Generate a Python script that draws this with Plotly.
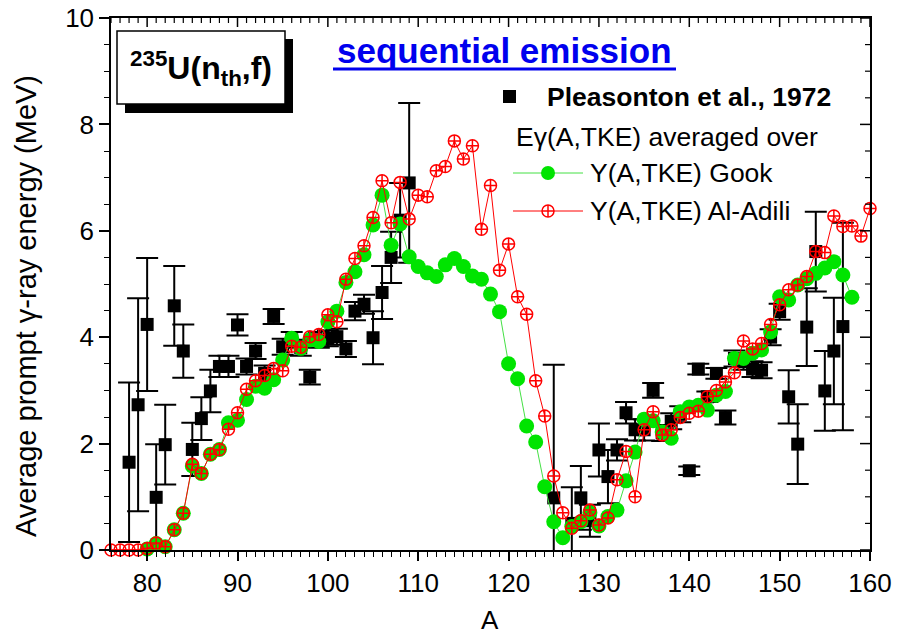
import plotly.graph_objects as go

# ---------------- data ----------------
# Pleasonton et al., 1972 (experimental)
pl_A = [78, 79, 80, 81, 82, 83, 84, 85, 86, 87, 88, 89, 90, 91, 92, 93, 94, 95, 96, 97,
        98, 99, 100, 101, 102, 103, 104, 105, 106, 107, 108, 109,
        125, 127, 128, 129, 130, 131, 132, 133, 134, 135, 136, 137, 138, 139, 140, 141,
        142, 143, 144, 145, 146, 147, 148, 149, 150, 151, 152, 153, 154, 155, 156, 157]
pl_E = [1.65, 2.73, 4.24, 0.99, 1.98, 4.59, 3.74, 1.89, 2.47, 2.99, 3.45, 3.45, 4.23, 3.45, 3.74, 3.32, 4.39, 3.82, 3.95, 3.80,
        3.25, 3.95, 3.98, 4.01, 3.78, 4.49, 4.62, 3.99, 4.84, 5.50, 6.20, 6.90,
        0.98, 0.50, 0.98, 0.55, 1.88, 1.38, 1.88, 2.58, 2.26, 2.26, 3.00, 2.20, 2.42, 2.55, 1.49, 3.40,
        2.88, 3.32, 2.49, 3.60, 3.54, 3.40, 3.38, 4.00, 4.48, 2.88, 1.99, 4.19, 5.61, 2.99, 3.74, 4.20]
pl_err = [1.50, 2.00, 1.25, 1.00, 0.75, 0.75, 0.50, 0.50, 0.40, 0.40, 0.20, 0.20, 0.20, 0.15, 0.15, 0.15, 0.14, 0.15, 0.15, 0.15,
          0.14, 0.15, 0.15, 0.15, 0.15, 0.17, 0.18, 0.50, 0.50, 0.48, 0.70, 1.50,
          2.50, 0.68, 0.60, 0.30, 0.50, 0.50, 0.20, 0.20, 0.20, 0.20, 0.14, 0.15, 0.15, 0.15, 0.08, 0.10,
          0.10, 0.10, 0.13, 0.15, 0.15, 0.15, 0.15, 0.15, 0.15, 0.50, 0.75, 0.73, 0.75, 0.75, 1.00, 1.95]

# E_gamma(A,TKE) averaged over Y(A,TKE) Gook
gook_A = list(range(80, 159))
gook_E = [0.02, 0.12, 0.06, 0.38, 0.69, 1.58, 1.44, 1.80, 1.89, 2.39,
          2.44, 2.83, 3.08, 3.04, 3.20, 3.57, 3.98, 3.79, 3.95, 3.92,
          4.29, 4.49, 5.03, 5.23, 5.55, 6.11, 6.67, 5.73, 6.13, 5.51,
          5.33, 5.21, 5.14, 5.36, 5.48, 5.33, 5.15, 5.09, 4.81, 4.48,
          3.50, 3.22, 2.33, 2.03, 1.19, 0.53, 0.23, 0.44, 0.53, 0.70,
          0.45, 0.63, 0.75, 1.30, 1.84, 2.46, 2.43, 2.22, 2.10, 2.60,
          2.69, 2.72, 2.63, 2.91, 2.98, 3.60, 3.60, 3.70, 3.76, 4.10,
          4.76, 4.70, 4.98, 5.10, 5.20, 5.30, 5.42, 5.17, 4.75]

# E_gamma(A,TKE) averaged over Y(A,TKE) Al-Adili
adili_A = list(range(76, 161))
adili_E = [0.00, 0.00, 0.00, 0.00, 0.03, 0.13, 0.06, 0.38, 0.69, 1.61,
           1.44, 1.80, 1.89, 2.27, 2.58, 3.02, 3.18, 3.28, 3.41, 3.37,
           3.83, 3.81, 4.01, 4.05, 4.42, 4.29, 5.09, 5.48, 5.72, 6.25,
           6.94, 6.15, 6.91, 6.22, 6.67, 6.64, 7.13, 7.21, 7.69, 7.35,
           7.60, 6.03, 6.85, 5.26, 5.75, 4.76, 4.43, 3.18, 2.52, 1.39,
           0.70, 0.41, 0.55, 0.75, 0.47, 0.60, 1.32, 1.85, 1.00, 2.26,
           2.60, 2.16, 2.26, 2.49, 2.57, 2.61, 2.88, 3.00, 3.16, 3.33,
           3.93, 3.78, 3.88, 4.24, 4.61, 4.89, 4.98, 5.14, 5.61, 5.59,
           6.28, 6.08, 6.09, 5.90, 6.42]

x_ticks = [80, 90, 100, 110, 120, 130, 140, 150, 160]
y_ticks = [0, 2, 4, 6, 8, 10]
x_minor = list(range(76, 161))
y_minor = [i * 0.5 for i in range(0, 21)]

FONT = "Liberation Sans, Arial, Helvetica, sans-serif"
GREEN = "#00e400"
GREEN_LINE = "#44e044"
RED = "#ff0000"
BLUE = "#0000ee"

# ---------------- figure ----------------
W, H = 900, 636
# target plot area in screenshot pixels (body margin removed via post_script)
SL, SR, ST, SB = 111, 870, 18, 550
L, T = SL, ST
R, B = W - SR, H - SB
PW, PH = SR - SL, SB - ST


def px(xs):
    return (xs - SL) / PW


def py(ys):
    return (SB - ys) / PH


fig = go.Figure()

fig.add_trace(go.Scatter(
    x=pl_A, y=pl_E, mode="markers", name="Pleasonton et al., 1972",
    marker=dict(symbol="square", size=13, color="black"),
    error_y=dict(type="data", array=pl_err, color="black", thickness=2, width=11),
    cliponaxis=True, showlegend=False))

fig.add_trace(go.Scatter(
    x=gook_A, y=gook_E, mode="lines+markers", name="Y(A,TKE) Gook",
    line=dict(color=GREEN_LINE, width=1),
    marker=dict(symbol="circle", size=15, color=GREEN),
    cliponaxis=False, showlegend=False))

fig.add_trace(go.Scatter(
    x=adili_A, y=adili_E, mode="lines+markers", name="Y(A,TKE) Al-Adili",
    line=dict(color=RED, width=1),
    marker=dict(symbol="circle-cross-open", size=12, color=RED, line=dict(width=1.5)),
    cliponaxis=False, showlegend=False))

line_common = dict(showgrid=False, zeroline=False, showline=True, linecolor="black",
                   linewidth=1.5, tickcolor="black", tickwidth=1.5)
label_font = dict(family=FONT, size=26, color="black")

fig.update_layout(
    width=W, height=H,
    margin=dict(l=L, r=R, t=T, b=B),
    paper_bgcolor="white", plot_bgcolor="white",
    font=dict(family=FONT, color="black"),
    xaxis=dict(range=[76, 160], tickvals=x_ticks, ticks="outside", ticklen=9, mirror=True,
               automargin=False, ticklabeloverflow="allow", tickfont=label_font,
               minor=dict(dtick=1, ticks="outside", ticklen=5, tickcolor="black", tickwidth=1.2),
               **line_common),
    yaxis=dict(range=[0, 10], tickvals=y_ticks, ticks="outside", ticklen=10, mirror=True,
               automargin=False, ticklabeloverflow="allow", tickfont=label_font,
               minor=dict(dtick=0.5, ticks="outside", ticklen=5, tickcolor="black", tickwidth=1.2),
               **line_common),
)

shapes = []
annotations = []

# inward-pointing tick marks on the top and right frame edges
for xv in x_minor:
    major = xv in x_ticks
    shapes.append(dict(type="line", xref="x", yref="paper", ysizemode="pixel", yanchor=1,
                       x0=xv, x1=xv, y0=0, y1=-(9 if major else 5),
                       line=dict(color="black", width=1.5 if major else 1.2), layer="above"))
for yv in y_minor:
    major = yv in y_ticks
    shapes.append(dict(type="line", xref="paper", yref="y", xsizemode="pixel", xanchor=1,
                       y0=yv, y1=yv, x0=0, x1=-(10 if major else 5),
                       line=dict(color="black", width=1.5 if major else 1.2), layer="above"))

# title box with shadow
shapes.append(dict(type="rect", xref="paper", yref="paper",
                   x0=px(125), x1=px(293), y0=py(113), y1=py(39),
                   fillcolor="black", line=dict(width=0), layer="above"))
shapes.append(dict(type="rect", xref="paper", yref="paper",
                   x0=px(117), x1=px(285), y0=py(104), y1=py(31),
                   fillcolor="white", line=dict(color="black", width=1.5), layer="above"))
annotations.append(dict(xref="paper", yref="paper", x=px(201), y=py(68),
                        text="<b><sup>235</sup>U(n<sub>th</sub>,f)</b>", showarrow=False,
                        font=dict(family=FONT, size=32, color="black"),
                        xanchor="center", yanchor="middle"))

# sequential emission
annotations.append(dict(xref="paper", yref="paper", x=px(504), y=py(51),
                        text="<b>sequential emission</b>", showarrow=False,
                        font=dict(family=FONT, size=35, color=BLUE),
                        xanchor="center", yanchor="middle"))
shapes.append(dict(type="line", xref="paper", yref="paper",
                   x0=px(333), x1=px(676), y0=py(69), y1=py(69),
                   line=dict(color=BLUE, width=3), layer="above"))

# legend
shapes.append(dict(type="rect", xref="paper", yref="paper",
                   x0=px(503), x1=px(516), y0=py(103), y1=py(90),
                   fillcolor="black", line=dict(width=0), layer="above"))
annotations.append(dict(xref="paper", yref="paper", x=px(545), y=py(97),
                        text="<b>Pleasonton et al., 1972</b>", showarrow=False,
                        font=dict(family=FONT, size=26.5, color="black"),
                        xanchor="left", yanchor="middle"))
annotations.append(dict(xref="paper", yref="paper", x=px(514), y=py(137),
                        text="Eγ(A,TKE) averaged over", showarrow=False,
                        font=dict(family=FONT, size=26.5, color="black"),
                        xanchor="left", yanchor="middle"))
# green sample
shapes.append(dict(type="line", xref="paper", yref="paper",
                   x0=px(513), x1=px(583), y0=py(173), y1=py(173),
                   line=dict(color=GREEN_LINE, width=1), layer="above"))
shapes.append(dict(type="circle", xref="paper", yref="paper",
                   x0=px(541), x1=px(555), y0=py(180), y1=py(166),
                   fillcolor=GREEN, line=dict(width=0), layer="above"))
annotations.append(dict(xref="paper", yref="paper", x=px(588), y=py(173),
                        text="Y(A,TKE) Gook", showarrow=False,
                        font=dict(family=FONT, size=26.5, color="black"),
                        xanchor="left", yanchor="middle"))
# red sample
shapes.append(dict(type="line", xref="paper", yref="paper",
                   x0=px(513), x1=px(583), y0=py(211), y1=py(211),
                   line=dict(color=RED, width=1), layer="above"))
shapes.append(dict(type="circle", xref="paper", yref="paper",
                   x0=px(542), x1=px(554), y0=py(217), y1=py(205),
                   fillcolor="white", line=dict(color=RED, width=1.5), layer="above"))
shapes.append(dict(type="line", xref="paper", yref="paper",
                   x0=px(548), x1=px(548), y0=py(217), y1=py(205),
                   line=dict(color=RED, width=1.5), layer="above"))
shapes.append(dict(type="line", xref="paper", yref="paper",
                   x0=px(542), x1=px(554), y0=py(211), y1=py(211),
                   line=dict(color=RED, width=1.5), layer="above"))
annotations.append(dict(xref="paper", yref="paper", x=px(588), y=py(211),
                        text="Y(A,TKE) Al-Adili", showarrow=False,
                        font=dict(family=FONT, size=26.5, color="black"),
                        xanchor="left", yanchor="middle"))

# axis titles
annotations.append(dict(xref="paper", yref="paper", x=px(490), y=py(620),
                        text="A", showarrow=False,
                        font=dict(family=FONT, size=26, color="black"),
                        xanchor="center", yanchor="middle"))
annotations.append(dict(xref="paper", yref="paper", x=px(26), y=py(306),
                        text="Average prompt γ-ray energy (MeV)", showarrow=False,
                        textangle=-90,
                        font=dict(family=FONT, size=29, color="black"),
                        xanchor="center", yanchor="middle"))

fig.update_layout(shapes=shapes, annotations=annotations)

fig.write_html("out.html", config={"displayModeBar": False},
               post_script="document.body.style.margin='0px';")
